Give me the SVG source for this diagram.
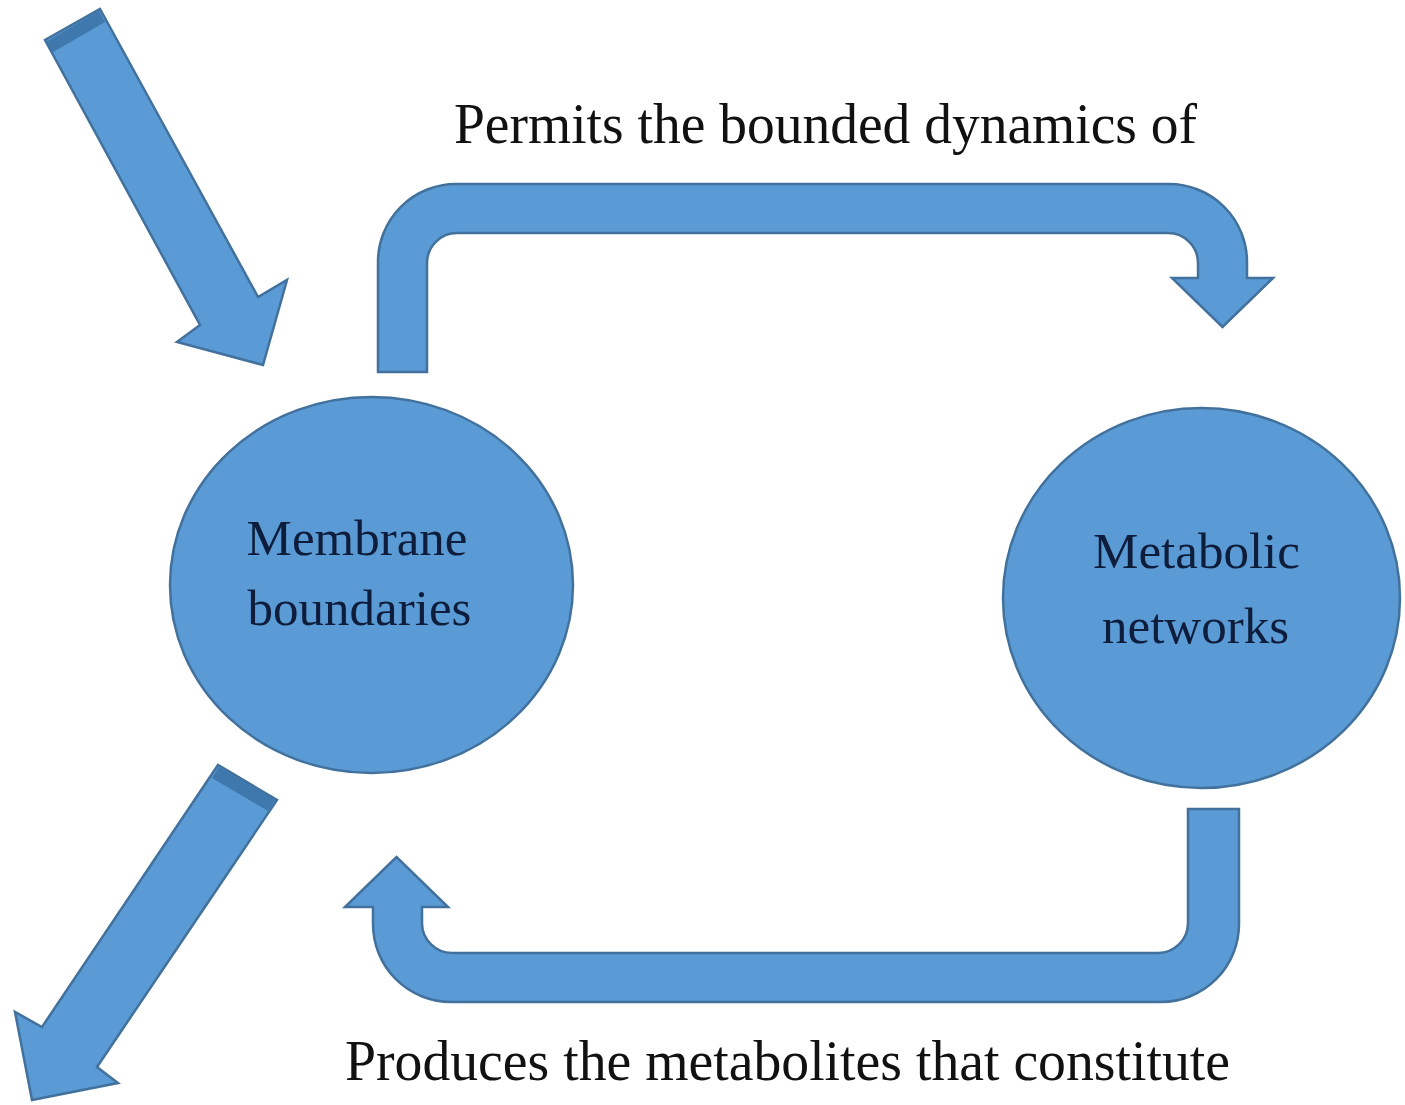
<svg xmlns="http://www.w3.org/2000/svg" width="1405" height="1105" viewBox="0 0 1405 1105">
<style>
.shape{fill:#5b9bd5;stroke:#41719c;stroke-width:2.5;stroke-linejoin:miter}
.band{fill:#3f78ad;stroke:none}
.node-text{font-family:"Liberation Serif","Times New Roman",serif;font-size:51px;fill:#0e1d3b;text-anchor:middle}
.label{font-family:"Liberation Serif","Times New Roman",serif;font-size:56px;fill:#111111}
</style>
<rect width="1405" height="1105" fill="#ffffff"/>
<g id="connectors">
  <g id="arrow-in">
    <path class="shape" d="M100 9 L258 297 L287 280 L263 365 L177 342 L200 325 L45 40 Z"/>
    <path class="band" d="M46.5 41.5 L99 11 L105 22 L52.5 52.5 Z"/>
  </g>
  <g id="arrow-out">
    <path class="shape" d="M218 765 L42 1027 L15 1012 L32 1100 L118 1083 L97 1067 L277 800 Z"/>
    <path class="band" d="M219 767 L275 800 L268 811 L212 778 Z"/>
  </g>
  <path id="arrow-permits" class="shape" d="M378 372 L378 262 A78 78 0 0 1 456 184 L1169 184 A78 78 0 0 1 1247 262 L1247 278 L1273 278 L1222.5 327 L1172 278 L1198 278 L1198 263 A30 30 0 0 0 1168 233 L457 233 A30 30 0 0 0 427 263 L427 372 Z"/>
  <path id="arrow-produces" class="shape" d="M1188 809 L1239 809 L1239 924 A78 78 0 0 1 1161 1002 L451 1002 A78 78 0 0 1 373 924 L373 907 L345 907 L396.5 857 L448 907 L422 907 L422 923 A30 30 0 0 0 452 953 L1158 953 A30 30 0 0 0 1188 923 Z"/>
</g>
<g id="node-membrane">
  <ellipse class="shape" cx="371.5" cy="585" rx="201.5" ry="188"/>
  <text class="node-text" x="357" y="555">Membrane</text>
  <text class="node-text" x="359.5" y="625">boundaries</text>
</g>
<g id="node-metabolic">
  <ellipse class="shape" cx="1201.5" cy="598" rx="198.5" ry="190"/>
  <text class="node-text" x="1196.5" y="568">Metabolic</text>
  <text class="node-text" x="1195.5" y="643">networks</text>
</g>
<g id="labels">
  <text class="label" x="454" y="143" textLength="743" lengthAdjust="spacingAndGlyphs">Permits the bounded dynamics of</text>
  <text class="label" x="345" y="1080" textLength="885" lengthAdjust="spacingAndGlyphs">Produces the metabolites that constitute</text>
</g>
</svg>
